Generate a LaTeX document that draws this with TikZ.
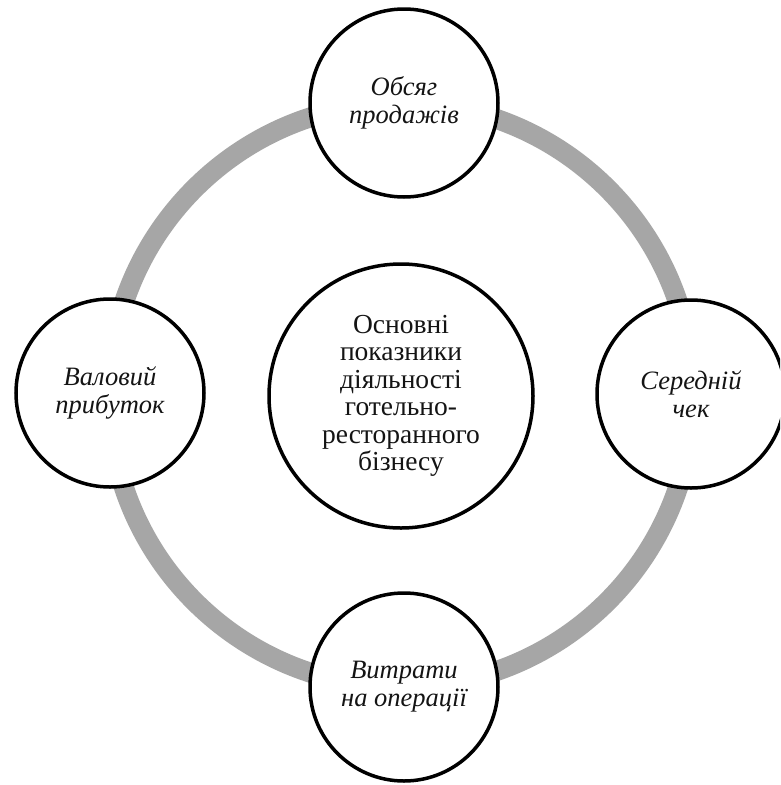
\documentclass[tikz,border=0pt]{standalone}
\usepackage{fontspec}
\setmainfont{Liberation Serif}
\definecolor{ringgray}{RGB}{166,166,166}
\definecolor{inkblack}{RGB}{20,20,20}
\begin{document}
\begin{tikzpicture}[x=1pt,y=-1pt,
  satnode/.style={circle, draw=black, line width=3.5pt, fill=white,
    minimum size=188pt, inner sep=0pt, align=center, text=inkblack,
    font=\fontsize{26.5}{28}\selectfont\itshape},
  hubnode/.style={circle, draw=black, line width=3.5pt, fill=white,
    minimum size=264pt, inner sep=0pt, align=center, text=inkblack,
    font=\fontsize{27.5}{27.5}\selectfont},
  ringline/.style={line width=20pt, draw=ringgray}]
\useasboundingbox (0,0) rectangle (780,785);
\clip (0,0) rectangle (780,785);
\fill[white] (0,0) rectangle (780,785);
\coordinate (ringc) at (401,395);
\draw[ringline] (ringc) circle[radius=292pt];
\node[hubnode] (hub) at (401,396) {Основні\\показники\\діяльності\\готельно-\\ресторанного\\бізнесу};
\node[satnode] (ntop) at (404,103) {Обсяг\\продажів};
\node[satnode] (nleft) at (110,393) {Валовий\\прибуток};
\node[satnode] (nright) at (691,394) {Середній\\чек};
\node[satnode] (nbottom) at (404,687) {Витрати\\на операції};
\end{tikzpicture}
\end{document}
